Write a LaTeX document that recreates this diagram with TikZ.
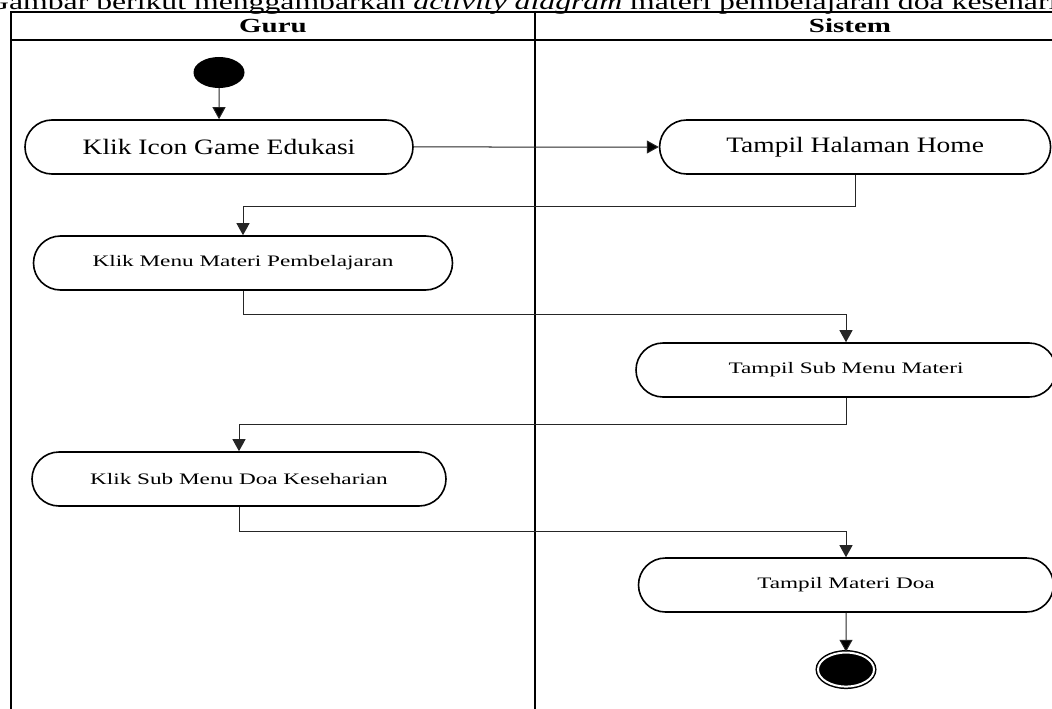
\documentclass[tikz,border=0pt]{standalone}
\usepackage{fontspec}
\setmainfont[FakeStretch=1.25]{Liberation Serif}
\newfontfamily\smallfont[FakeStretch=1.45]{Liberation Serif}
\newfontfamily\widefont[FakeStretch=1.45]{Liberation Serif}
\newfontfamily\capfont[FakeStretch=1.41]{Liberation Serif}
\usetikzlibrary{positioning,shapes.misc,shapes.geometric,arrows.meta}
\tikzstyle{action}=[rounded rectangle,draw,line width=1.6pt,fill=white,
minimum height=54pt,inner sep=0pt]
\tikzstyle{bigaction}=[action,font=\fontsize{22}{24}\selectfont]
\tikzstyle{smallaction}=[action,font=\smallfont\fontsize{16}{18}\selectfont]
\tikzstyle{startnode}=[ellipse,fill=black,minimum width=51pt,minimum height=31pt,inner sep=0pt]
\tikzstyle{stopnode}=[ellipse,draw=black,line width=1.5pt,double=white,double distance=2pt,
fill=black,minimum width=56pt,minimum height=34pt,inner sep=0pt]
\tikzstyle{lanehead}=[font=\widefont\bfseries\fontsize{20}{22}\selectfont]
\tikzstyle{lane}=[line width=2.4pt]
\tikzstyle{flow}=[-{Triangle[length=12pt,width=13pt]},line width=1pt,draw=black!85]

\begin{document}
\begin{tikzpicture}[x=1pt,y=-1pt]
            \useasboundingbox (0,0) rectangle (1052,709);
            \clip (0,0) rectangle (1052,709);

            % CAPTION
            \node[anchor=base west,inner sep=0pt,font=\capfont\fontsize{22.5}{24}\selectfont] (caption) at (-14,9.5)
                {Gambar berikut menggambarkan \textit{activity diagram} materi pembelajaran doa keseharian};

            % SWIMLANES
            \draw[lane,line width=2pt] (11,12) -- (1070,12);
            \draw[lane,line width=2pt] (11,40) -- (1070,40);
            \draw[lane] (11,720) -- (11,11);
            \draw[lane,line width=2.8pt] (535,11) -- (535,720);
            \node[lanehead] (guru) at (273,26) {Guru};
            \node[lanehead] (sistem) at (850,26) {Sistem};

            % GURU PART
            \node[bigaction,minimum width=388pt] (n1) at (219,147) {Klik Icon Game Edukasi};
            \node[startnode,above=31pt of n1] (start) {};
            \node[smallaction,minimum width=419pt] (n3) at (243,263) {Klik Menu Materi Pembelajaran};
            \node[smallaction,minimum width=414pt] (n5) at (239,479) {Klik Sub Menu Doa Keseharian};

            % SISTEM PART
            \node[bigaction,minimum width=391pt,right=245pt of n1] (n2) {Tampil Halaman Home};
            \node[smallaction,minimum width=420pt] (n4) at (846,370) {Tampil Sub Menu Materi};
            \node[smallaction,minimum width=415pt] (n6) at (846,585) {Tampil Materi Doa};
            \node[stopnode,below=39pt of n6] (stop) {};

            % FLOWS
            \path[flow] (start) edge node {} (n1);
            \path[flow] (n1) edge node {} (n2);
            \draw[flow] (n2.south) -- ++(0,32) -| (n3.north);
            \draw[flow] (n3.south) -- ++(0,24) -| (n4.north);
            \draw[flow] (n4.south) -- ++(0,27) -| (n5.north);
            \draw[flow] (n5.south) -- ++(0,25) -| (n6.north);
            \path[flow] (n6) edge node {} (stop);

\end{tikzpicture}
\end{document}
